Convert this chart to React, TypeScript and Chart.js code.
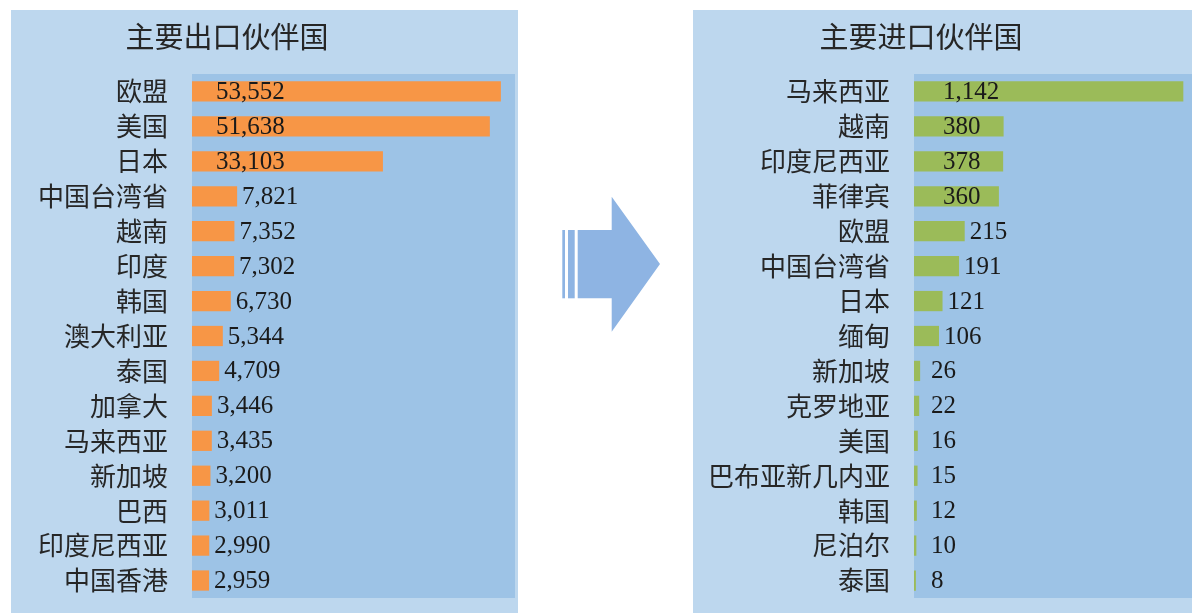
import React, { useEffect, useRef } from "react";
import { Chart, registerables } from "chart.js";
Chart.register(...registerables);

const exportTitle = "主要出口伙伴国";
const exportCategories = ["欧盟", "美国", "日本", "中国台湾省", "越南", "印度", "韩国", "澳大利亚", "泰国", "加拿大", "马来西亚", "新加坡", "巴西", "印度尼西亚", "中国香港"];
const exportValues = [53552, 51638, 33103, 7821, 7352, 7302, 6730, 5344, 4709, 3446, 3435, 3200, 3011, 2990, 2959];

const importTitle = "主要进口伙伴国";
const importCategories = ["马来西亚", "越南", "印度尼西亚", "菲律宾", "欧盟", "中国台湾省", "日本", "缅甸", "新加坡", "克罗地亚", "美国", "巴布亚新几内亚", "韩国", "尼泊尔", "泰国"];
const importValues = [1142, 380, 378, 360, 215, 191, 121, 106, 26, 22, 16, 15, 12, 10, 8];

const PANEL_BG = "#BDD7EE";
const PLOT_BG = "#9DC3E6";
const CJK = "'Noto Sans CJK SC', 'Noto Sans', sans-serif";
const NUM = "'Liberation Serif', 'DejaVu Serif', serif";

const bgPlugin = {
  id: "panelBg",
  beforeDraw(chart: any) {
    const { ctx, width, height, chartArea } = chart;
    ctx.save();
    ctx.fillStyle = PANEL_BG;
    ctx.fillRect(0, 0, width, height);
    ctx.fillStyle = PLOT_BG;
    ctx.fillRect(chartArea.left, chartArea.top, chartArea.right - chartArea.left, chartArea.bottom - chartArea.top);
    ctx.restore();
  },
};

const titlePlugin = {
  id: "panelTitle",
  afterDraw(chart: any, _args: any, opts: any) {
    const { ctx } = chart;
    ctx.save();
    ctx.font = `29px ${CJK}`;
    ctx.fillStyle = "#262626";
    ctx.textAlign = "center";
    ctx.textBaseline = "middle";
    ctx.fillText(opts.text, opts.x, opts.y);
    ctx.restore();
  },
};

const valuePlugin = {
  id: "valueLabels",
  afterDatasetsDraw(chart: any, _args: any, opts: any) {
    const { ctx } = chart;
    const data = chart.data.datasets[0].data as number[];
    const maxV = Math.max(...data);
    const meta = chart.getDatasetMeta(0);
    ctx.save();
    ctx.font = `25px ${NUM}`;
    ctx.fillStyle = "#1a1a1a";
    ctx.textAlign = "left";
    ctx.textBaseline = "middle";
    meta.data.forEach((el: any, i: number) => {
      const v = data[i];
      const base = el.base;
      let x: number;
      if (v / maxV > 0.25) x = base + opts.inside;
      else x = Math.max(base + opts.minOffset, el.x + opts.gap);
      ctx.fillText(v.toLocaleString("en-US"), x, el.y + 1);
    });
    ctx.restore();
  },
};

function Panel(props: {
  title: string;
  categories: string[];
  values: number[];
  color: string;
  max: number;
  axisWidth: number;
  titleX: number;
  inside: number;
  minOffset: number;
  left: number;
}) {
  const ref = useRef<HTMLCanvasElement | null>(null);
  useEffect(() => {
    if (!ref.current) return;
    const chart = new Chart(ref.current, {
      type: "bar",
      data: {
        labels: props.categories,
        datasets: [
          {
            data: props.values,
            backgroundColor: props.color,
            borderWidth: 0,
            categoryPercentage: 1,
            barPercentage: 0.58,
          },
        ],
      },
      plugins: [bgPlugin, titlePlugin, valuePlugin],
      options: {
        responsive: false,
        animation: false,
        devicePixelRatio: 1,
        indexAxis: "y",
        layout: { padding: { left: 0, top: 64, right: 3, bottom: 15 } },
        scales: {
          x: { display: false, min: 0, max: props.max },
          y: {
            grid: { display: false, drawTicks: false },
            border: { display: false },
            ticks: {
              font: { family: CJK, size: 26 },
              color: "#262626",
              padding: 24,
              autoSkip: false,
            },
            afterFit: (s: any) => {
              s.width = props.axisWidth;
              s.paddingTop = 0;
              s.paddingBottom = 0;
            },
          },
        },
        plugins: {
          legend: { display: false },
          title: { display: false },
          tooltip: { enabled: false },
          panelTitle: { text: props.title, x: props.titleX, y: 27 },
          valueLabels: { inside: props.inside, minOffset: props.minOffset, gap: 5 },
        } as any,
      },
    } as any);
    return () => chart.destroy();
  }, []);
  return (
    <canvas
      ref={ref}
      width={507}
      height={603}
      style={{ position: "absolute", left: props.left, top: 10, width: 507, height: 603 }}
    />
  );
}

export default function App() {
  return (
    <div
      style={{
        position: "fixed",
        left: 0,
        top: 0,
        width: 1192,
        height: 613,
        overflow: "hidden",
        background: "#ffffff",
      }}
    >
      <Panel
        title={exportTitle}
        categories={exportCategories}
        values={exportValues}
        color="#F79646"
        max={56000}
        axisWidth={181}
        titleX={216}
        inside={24}
        minOffset={22}
        left={11}
      />
      <svg
        width={110}
        height={150}
        style={{ position: "absolute", left: 555, top: 190 }}
        viewBox="555 190 110 150"
      >
        <rect x={562.3} y={230} width={2.7} height={68.3} fill="#8EB4E3" />
        <rect x={568} y={230} width={6.7} height={68.3} fill="#8EB4E3" />
        <polygon
          points="577.7,230 611.7,230 611.7,196.7 660,264 611.7,331.7 611.7,298.3 577.7,298.3"
          fill="#8EB4E3"
        />
      </svg>
      <Panel
        title={importTitle}
        categories={importCategories}
        values={importValues}
        color="#9BBB59"
        max={1200}
        axisWidth={221}
        titleX={228}
        inside={29}
        minOffset={17}
        left={693}
      />
    </div>
  );
}
